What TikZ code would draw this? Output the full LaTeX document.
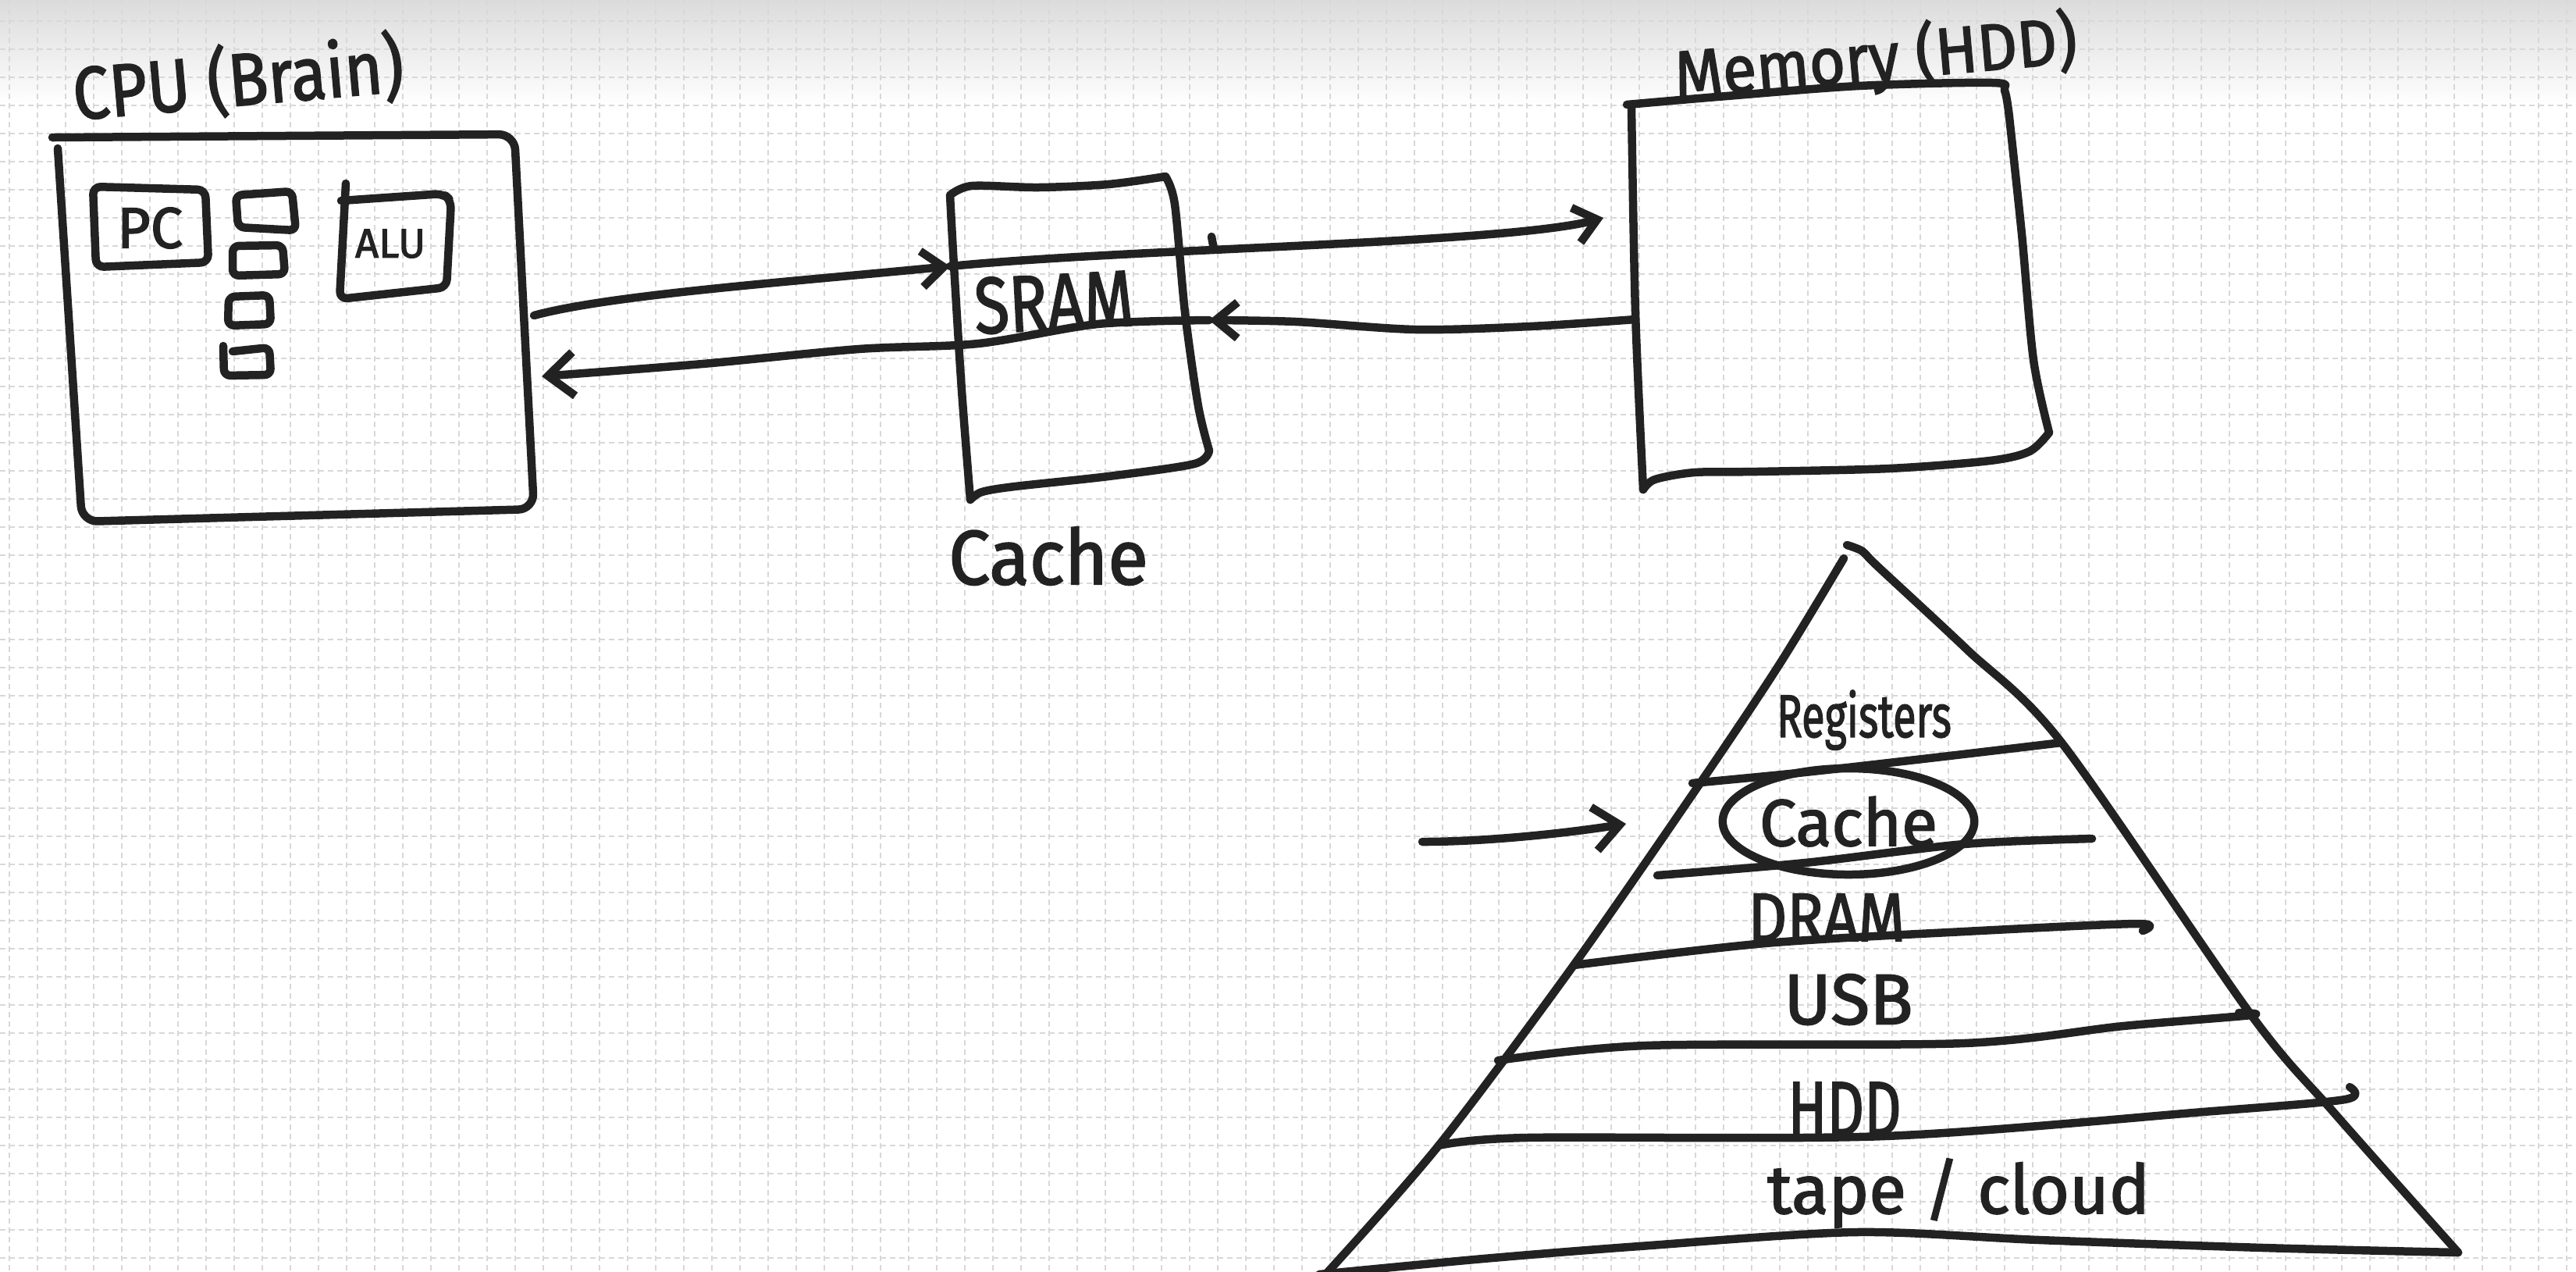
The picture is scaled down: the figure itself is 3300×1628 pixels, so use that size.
\documentclass[tikz,border=0pt]{standalone}
\usepackage{fontspec}
\setmainfont{Fira Sans}[FakeBold=2]
\usetikzlibrary{arrows.meta,shapes.geometric}
\definecolor{ink}{RGB}{34,34,34}
\definecolor{gridc}{RGB}{216,216,216}
\newcommand{\fsz}[1]{\fontsize{#1pt}{#1pt}\selectfont}
\begin{document}
\begin{tikzpicture}[x=0.1mm,y=-0.1mm,
  sk/.style={draw=ink,line width=1.05mm,line cap=round,line join=round},
  barb/.style={-{Straight Barb[length=2.8mm,width=4.6mm]}},
  bigbarb/.style={-{Straight Barb[length=3.3mm,width=5.6mm]}},
  lbl/.style={text=ink,inner sep=0pt},
  gridline/.style={draw=gridc,line width=0.14mm,dash pattern=on 0.7mm off 0.5mm}]
\useasboundingbox (0,0) rectangle (3300,1628);
\fill[white] (0,0) rectangle (3300,1628);
\shade[top color=black!14,bottom color=white] (0,0) rectangle (3300,135);
\foreach \gx in {12,48,...,3300} \draw[gridline] (\gx,0) -- (\gx,1628);
\foreach \gy in {27,63,...,1628} \draw[gridline] (0,\gy) -- (3300,\gy);

% ---------- CPU ----------
\node[lbl,font=\fsz{27},rotate=5] (cputitle) at (305,102) {\scalebox{0.88}[1]{CPU (Brain)}};
\draw[sk,rounded corners=2mm] (74,190) -- (105,668) -- (684,652) -- (659,172) -- (67,176);
\coordinate (cpuOut) at (684,404);
\coordinate (cpuIn) at (694,482);
\draw[sk,rounded corners=1mm] (119,239) -- (263,243) -- (267,336) -- (123,342) -- cycle;
\node[lbl,font=\fsz{21}] (pc) at (192,292) {PC};
\draw[sk,rounded corners=0.8mm] (302,250) -- (374,245) -- (379,295) -- (305,291) -- cycle;
\draw[sk,rounded corners=0.8mm] (298,315) -- (362,314) -- (365,351) -- (298,353) -- cycle;
\draw[sk,rounded corners=0.8mm] (293,380) -- (345,378) -- (347,415) -- (292,417) -- cycle;
\draw[sk,rounded corners=0.8mm] (298,450) -- (345,445) -- (347,480) -- (287,481) -- (286,443);
\draw[sk,rounded corners=1mm] (443,235) -- (435,383) -- (572,368) -- (578,257) -- (568,248) -- (437,257);
\node[lbl,font=\fsz{15}] (alu) at (500,312) {ALU};

% ---------- Cache (SRAM) ----------
\draw[sk] plot[smooth] coordinates {(1217,250) (1245,238) (1330,240) (1420,236) (1493,226)};
\draw[sk] plot[smooth] coordinates {(1493,226) (1505,262) (1518,400) (1535,520) (1549,577)};
\draw[sk] plot[smooth] coordinates {(1549,577) (1530,594) (1420,610) (1300,623) (1258,630) (1243,640)};
\draw[sk] plot[smooth] coordinates {(1217,250) (1222,340) (1232,500) (1243,640)};
\coordinate (cacheInL) at (1217,341);
\coordinate (cacheInR) at (1549,410);
\node[lbl,font=\fsz{29},rotate=3] (sram) at (1350,387) {\scalebox{0.8}[1]{SRAM}};
\node[lbl,font=\fsz{28}] (cachelbl) at (1343,712) {\scalebox{0.96}[1]{Cache}};
\draw[sk] (1552,303) -- (1555,319);

% ---------- Memory ----------
\node[lbl,font=\fsz{24},rotate=5] (memtitle) at (2403,76) {\scalebox{0.94}[1]{Memory (HDD)}};
\draw[sk] plot[smooth] coordinates {(2084,134) (2200,124) (2381,110) (2553,106) (2568,116) (2574,150)};
\draw[sk] plot[smooth] coordinates {(2574,150) (2590,300) (2605,461) (2625,554)};
\draw[sk] plot[smooth] coordinates {(2625,554) (2600,578) (2549,590) (2420,600) (2250,604) (2171,605) (2120,614) (2105,627)};
\draw[sk] plot[smooth] coordinates {(2090,138) (2095,400) (2105,627)};
\coordinate (memIn) at (2054,279);
\coordinate (memOut) at (2095,409);

% ---------- connectors ----------
\draw[sk,barb] (cpuOut) .. controls (780,378) and (1000,362) .. (cacheInL);
\draw[sk,barb] (cacheInL) .. controls (1450,318) and (1930,312) .. (memIn);
\draw[sk,barb] plot[smooth] coordinates {(memOut) (1960,418) (1814,422) (1660,412) (cacheInR)};
\draw[sk,bigbarb] plot[smooth] coordinates {(cacheInR) (1406,415) (1253,440) (1100,447) (900,466) (cpuIn)};

% ---------- Pyramid ----------
\draw[sk] plot[smooth] coordinates {(2362,715) (2280,850) (2180,1000) (2016,1236) (1843,1467) (1700,1630)};
\draw[sk] plot[smooth] coordinates {(2366,698) (2386,706) (2405,725) (2520,832) (2641,951) (2884,1300) (2990,1425) (3149,1604)};
\draw[sk] plot[smooth] coordinates {(1690,1632) (1900,1612) (2100,1596) (2377,1578) (2613,1588) (2900,1598) (3149,1604)};
\draw[sk] plot[smooth] coordinates {(2168,1003) (2312,989) (2480,970) (2641,951)};
\draw[sk] plot[smooth] coordinates {(2123,1121) (2312,1105) (2516,1081) (2680,1074)};
\draw[sk] plot[smooth] coordinates {(2016,1236) (2261,1208) (2516,1193) (2738,1183) (2745,1192)};
\draw[sk] plot[smooth] coordinates {(1919,1358) (2108,1339) (2516,1336) (2720,1314) (2884,1300) (2868,1297)};
\draw[sk] plot[smooth] coordinates {(1843,1467) (1955,1457) (2414,1455) (2822,1424) (3004,1408) (3010,1392)};
\node[lbl,font=\fsz{22}] (reg) at (2388,922) {\scalebox{0.7}[1]{Registers}};
\node[lbl,font=\fsz{24},draw=ink,line width=1.05mm,ellipse,minimum width=31mm,minimum height=13.6mm] (cachepyr) at (2368,1052) {Cache};
\node[lbl,font=\fsz{25}] (dram) at (2340,1175) {\scalebox{0.88}[1]{DRAM}};
\node[lbl,font=\fsz{26}] (usb) at (2368,1280) {USB};
\node[lbl,font=\fsz{28}] (hdd) at (2363,1420) {\scalebox{0.75}[1]{HDD}};
\node[lbl,font=\fsz{24.8}] (tape) at (2509,1528) {tape / cloud};
\coordinate (arrS) at (1822,1078);
\coordinate (arrT) at (2083,1055);
\draw[sk,bigbarb] (arrS) .. controls (1900,1078) and (2000,1068) .. (arrT);
\end{tikzpicture}
\end{document}
